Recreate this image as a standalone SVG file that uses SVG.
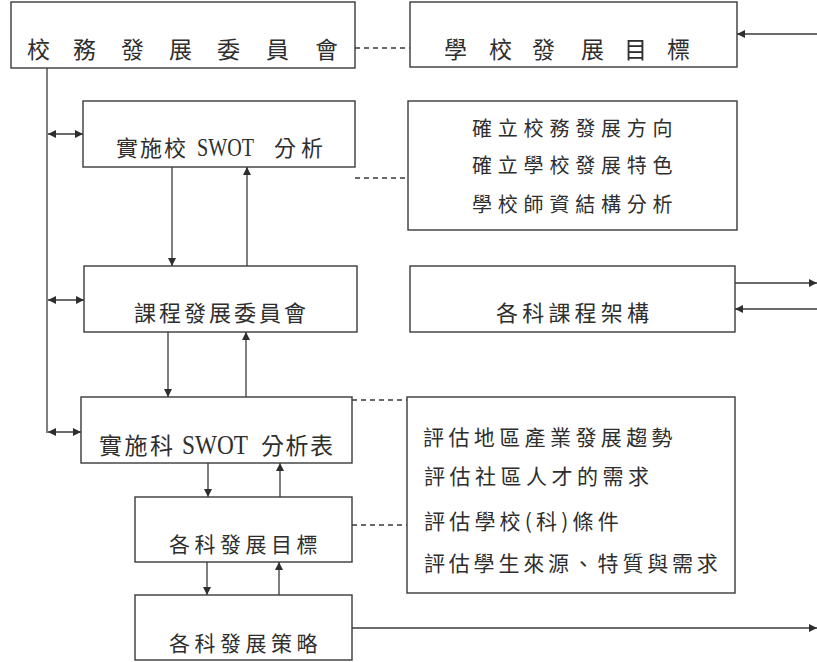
<svg xmlns="http://www.w3.org/2000/svg" width="817" height="662" viewBox="0 0 817 662">
<style>
.box{fill:#fff;stroke:#3a3a3a;stroke-width:1.4}
.ln{fill:none;stroke:#3a3a3a;stroke-width:1.3}
.dash{fill:none;stroke:#3a3a3a;stroke-width:1.3;stroke-dasharray:5 4}
.t{font-family:"Liberation Serif",serif;fill:#2e2e2e}
.c{font-family:"Noto Sans CJK TC","Noto Sans CJK SC",sans-serif;fill:#2e2e2e}
</style>
<defs>
<marker id="ah" viewBox="0 0 10 10" refX="10" refY="5" markerUnits="userSpaceOnUse" markerWidth="10" markerHeight="8" orient="auto-start-reverse">
<path d="M0,0 L10,5 L0,10 z" fill="#2e2e2e"/>
</marker>
</defs>
<rect width="817" height="662" fill="#fff"/>
<g id="connectors">
<line class="dash" x1="355" y1="48" x2="410" y2="48"/>
<line class="dash" x1="355" y1="178" x2="408" y2="178"/>
<line class="dash" x1="352" y1="400" x2="407" y2="400"/>
<line class="dash" x1="352" y1="525" x2="407" y2="525"/>
<line class="ln" x1="47" y1="68" x2="47" y2="433"/>
<line class="ln" x1="48" y1="134" x2="83" y2="134" marker-start="url(#ah)" marker-end="url(#ah)"/>
<line class="ln" x1="48" y1="300" x2="84" y2="300" marker-start="url(#ah)" marker-end="url(#ah)"/>
<line class="ln" x1="48" y1="432" x2="81" y2="432" marker-start="url(#ah)" marker-end="url(#ah)"/>
<line class="ln" x1="172" y1="167" x2="172" y2="266" marker-end="url(#ah)"/>
<line class="ln" x1="247" y1="266" x2="247" y2="167" marker-end="url(#ah)"/>
<line class="ln" x1="168" y1="332" x2="168" y2="397" marker-end="url(#ah)"/>
<line class="ln" x1="246" y1="397" x2="246" y2="332" marker-end="url(#ah)"/>
<line class="ln" x1="208" y1="463" x2="208" y2="497" marker-end="url(#ah)"/>
<line class="ln" x1="280" y1="497" x2="280" y2="463" marker-end="url(#ah)"/>
<line class="ln" x1="207" y1="562" x2="207" y2="595" marker-end="url(#ah)"/>
<line class="ln" x1="279" y1="595" x2="279" y2="562" marker-end="url(#ah)"/>
<line class="ln" x1="817" y1="34" x2="737" y2="34" marker-end="url(#ah)"/>
<line class="ln" x1="735" y1="283" x2="817" y2="283" marker-end="url(#ah)"/>
<line class="ln" x1="817" y1="309" x2="735" y2="309" marker-end="url(#ah)"/>
<line class="ln" x1="352" y1="628" x2="817" y2="628" marker-end="url(#ah)"/>
</g>
<g id="n1">
<rect class="box" x="11" y="2" width="344" height="66"/>
<text class="c" font-size="23" y="58" x="27 73 121 169 217 266 315">校務發展委員會</text>
</g>
<g id="n2">
<rect class="box" x="410" y="2" width="327" height="65"/>
<text class="c" font-size="23" y="58" x="444 489 532 581 624 667">學校發展目標</text>
</g>
<g id="n3">
<rect class="box" x="83" y="101" width="272" height="66"/>
<text class="c" font-size="22" y="156"><tspan x="116" letter-spacing="2">實施校</tspan><tspan class="t" x="197" font-size="25" textLength="57" lengthAdjust="spacingAndGlyphs">SWOT</tspan><tspan x="274" letter-spacing="5">分析</tspan></text>
</g>
<g id="n4">
<rect class="box" x="408" y="101" width="329" height="129"/>
<text class="c" font-size="20" letter-spacing="5.8" x="472" y="136">確立校務發展方向</text>
<text class="c" font-size="20" letter-spacing="5.8" x="472" y="173">確立學校發展特色</text>
<text class="c" font-size="20" letter-spacing="5.8" x="472" y="212">學校師資結構分析</text>
</g>
<g id="n5">
<rect class="box" x="84" y="266" width="273" height="66"/>
<text class="c" font-size="22" letter-spacing="3" x="134" y="321">課程發展委員會</text>
</g>
<g id="n6">
<rect class="box" x="410" y="266" width="325" height="66"/>
<text class="c" font-size="22" letter-spacing="4.2" x="496" y="321">各科課程架構</text>
</g>
<g id="n7">
<rect class="box" x="81" y="397" width="271" height="66"/>
<text class="c" font-size="23" y="454"><tspan x="99" letter-spacing="2.5">實施科</tspan><tspan class="t" x="182" font-size="27" textLength="66" lengthAdjust="spacingAndGlyphs">SWOT</tspan><tspan x="261" letter-spacing="1.5">分析表</tspan></text>
</g>
<g id="n8">
<rect class="box" x="407" y="397" width="328" height="196"/>
<text class="c" font-size="21" letter-spacing="4.4" x="423" y="445">評估地區產業發展趨勢</text>
<text class="c" font-size="21" letter-spacing="4.5" x="424" y="484">評估社區人才的需求</text>
<text class="c" font-size="21" letter-spacing="4.2" x="424" y="529">評估學校(科)條件</text>
<text class="c" font-size="21" letter-spacing="3.8" x="424" y="571">評估學生來源、特質與需求</text>
</g>
<g id="n9">
<rect class="box" x="135" y="497" width="217" height="65"/>
<text class="c" font-size="21" letter-spacing="4.5" x="169" y="552">各科發展目標</text>
</g>
<g id="n10">
<rect class="box" x="135" y="595" width="217" height="65"/>
<text class="c" font-size="21" letter-spacing="4.5" x="169" y="651">各科發展策略</text>
</g>
</svg>
